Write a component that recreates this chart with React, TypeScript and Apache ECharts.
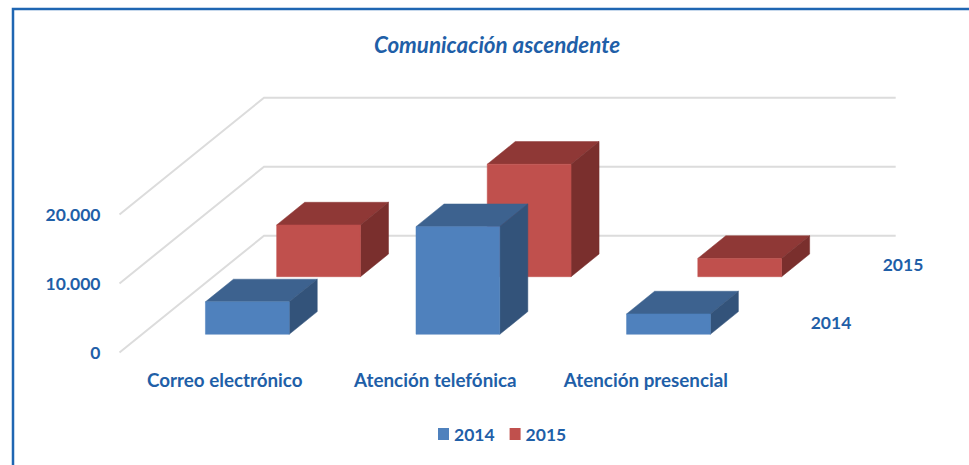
import React, { useEffect, useRef } from "react";
import * as echarts from "echarts";

const categories = ["Correo electrónico", "Atención telefónica", "Atención presencial"];
const values2014 = [4700, 15600, 2950];
const values2015 = [7500, 16300, 2650];
const yTicks = [0, 10000, 20000];
const seriesNames = ["2014", "2015"];

const INK = "#1F5FA8";
const FONT = "Lato, sans-serif";
const DEPTH_X = 144.5;
const DEPTH_Y = 116.8;
const BAR_WIDTH = 0.398;

const barRenderer = (d0: number, d1: number, front: string, top: string, side: string) =>
  (_params: any, api: any) => {
    const cat = api.value(0);
    const base = api.coord([cat, 0]);
    const head = api.coord([cat, api.value(1)]);
    const w = api.size([1, 0])[0] * BAR_WIDTH;
    const x0 = base[0] - w / 2 + d0 * DEPTH_X;
    const x1 = x0 + w;
    const yb = base[1] - d0 * DEPTH_Y;
    const yt = head[1] - d0 * DEPTH_Y;
    const dx = (d1 - d0) * DEPTH_X;
    const dy = (d1 - d0) * DEPTH_Y;
    const poly = (points: number[][], fill: string) => ({
      type: "polygon",
      shape: { points },
      style: { fill, stroke: fill, lineWidth: 0.5 },
    });
    return {
      type: "group",
      children: [
        poly([[x0, yt], [x1, yt], [x1 + dx, yt - dy], [x0 + dx, yt - dy]], top),
        poly([[x1, yb], [x1 + dx, yb - dy], [x1 + dx, yt - dy], [x1, yt]], side),
        poly([[x0, yb], [x1, yb], [x1, yt], [x0, yt]], front),
      ],
    };
  };

const gridRenderer = (_params: any, api: any) => {
  const p = api.coord([0, api.value(0)]);
  const left = p[0] - api.size([1, 0])[0] / 2;
  const span = api.size([1, 0])[0] * categories.length;
  return {
    type: "polyline",
    shape: {
      points: [
        [left, p[1]],
        [left + DEPTH_X, p[1] - DEPTH_Y],
        [left + DEPTH_X + span, p[1] - DEPTH_Y],
      ],
    },
    style: { fill: "none", stroke: "#DCDCDC", lineWidth: 2 },
  };
};

export default function App() {
  const ref = useRef<HTMLDivElement>(null);
  useEffect(() => {
    document.body.style.margin = "0";
    document.body.style.background = "#fff";
    const chart = echarts.init(ref.current!, undefined, { renderer: "svg" });
    chart.setOption({
      animation: false,
      backgroundColor: "#ffffff",
      title: {
        text: "Comunicación ascendente",
        left: 492,
        top: 28,
        textAlign: "center",
        textStyle: { color: INK, fontFamily: FONT, fontSize: 22.4, fontWeight: "bold", fontStyle: "italic" },
      },
      legend: {
        data: seriesNames,
        left: 433,
        top: 420,
        itemWidth: 11,
        itemHeight: 12,
        itemGap: 15,
        selectedMode: false,
        icon: "rect",
        textStyle: { color: INK, fontFamily: FONT, fontSize: 17.5, fontWeight: "bold" },
      },
      grid: { left: 119.5, top: 214.5, width: 631.7, height: 138 },
      xAxis: {
        type: "category",
        data: categories,
        axisLine: { show: false },
        axisTick: { show: false },
        axisLabel: { color: INK, fontFamily: FONT, fontSize: 18.8, fontWeight: "bold", margin: 17, interval: 0 },
      },
      yAxis: {
        type: "value",
        min: 0,
        max: 20000,
        interval: 10000,
        axisLine: { show: false },
        axisTick: { show: false },
        splitLine: { show: false },
        axisLabel: {
          color: INK,
          fontFamily: FONT,
          fontSize: 17.5,
          fontWeight: "bold",
          margin: 19,
          formatter: (v: number) => (v === 0 ? "0" : v / 1000 + ".000"),
        },
      },
      graphic: [
        { type: "rect", shape: { x: 13, y: 9, width: 970, height: 470 }, style: { fill: "none", stroke: "#1F66B2", lineWidth: 2.5 }, silent: true },
        { type: "text", x: 831, y: 322, style: { text: seriesNames[0], fill: INK, font: `bold 17.5px ${FONT}`, textAlign: "center", textVerticalAlign: "middle" } },
        { type: "text", x: 903, y: 264, style: { text: seriesNames[1], fill: INK, font: `bold 17.5px ${FONT}`, textAlign: "center", textVerticalAlign: "middle" } },
      ],
      series: [
        {
          type: "custom",
          name: "grid",
          coordinateSystem: "cartesian2d",
          clip: false,
          silent: true,
          renderItem: gridRenderer,
          encode: { y: 0 },
          data: yTicks.map((v) => [v]),
        },
        {
          type: "custom",
          name: seriesNames[1],
          coordinateSystem: "cartesian2d",
          clip: false,
          itemStyle: { color: "#C0504D" },
          renderItem: barRenderer(0.649, 0.843, "#C0504D", "#8F3836", "#7A2F2D"),
          encode: { x: 0, y: 1 },
          data: values2015.map((v, i) => [i, v]),
        },
        {
          type: "custom",
          name: seriesNames[0],
          coordinateSystem: "cartesian2d",
          clip: false,
          itemStyle: { color: "#4F81BD" },
          renderItem: barRenderer(0.156, 0.35, "#4F81BD", "#3D628F", "#33537A"),
          encode: { x: 0, y: 1 },
          data: values2014.map((v, i) => [i, v]),
        },
      ],
    });
    return () => chart.dispose();
  }, []);
  return <div ref={ref} style={{ width: 969, height: 465 }} />;
}
